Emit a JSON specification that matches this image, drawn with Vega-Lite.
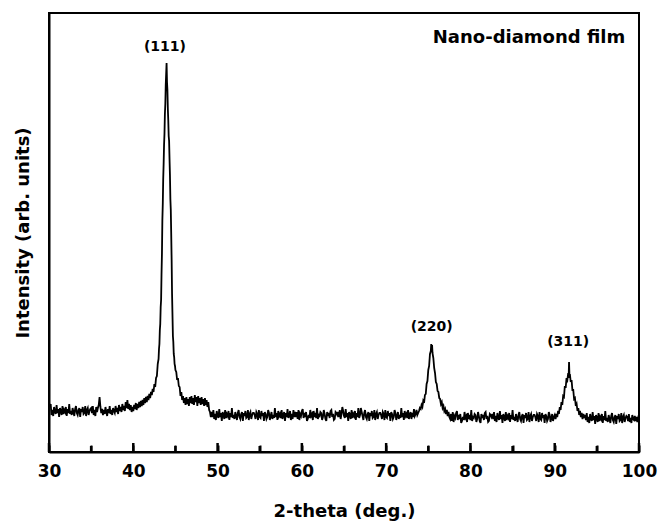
{
"$schema":"https://vega.github.io/schema/vega-lite/v6.json",
"width":590,"height":439,
"autosize":{"type":"none"},
"padding":{"left":49,"top":13,"right":19,"bottom":71},
"background":"white",
"config":{"view":{"stroke":"black","strokeWidth":2},"font":"DejaVu Sans"},
"layer":[
{"data":{"values":[
{"x":30.0,"y":50},{"x":30.1,"y":45},{"x":30.2,"y":48},{"x":30.3,"y":37},{"x":30.4,"y":42},{"x":30.5,"y":36},{"x":30.6,"y":45},{"x":30.7,"y":40},{"x":30.8,"y":38},{"x":30.9,"y":47},
{"x":31.0,"y":39},{"x":31.1,"y":43},{"x":31.2,"y":35},{"x":31.3,"y":44},{"x":31.4,"y":41},{"x":31.5,"y":37},{"x":31.6,"y":46},{"x":31.7,"y":38},{"x":31.8,"y":42},{"x":31.9,"y":40},
{"x":32.0,"y":45},{"x":32.1,"y":36},{"x":32.2,"y":43},{"x":32.3,"y":39},{"x":32.4,"y":48},{"x":32.5,"y":38},{"x":32.6,"y":41},{"x":32.7,"y":37},{"x":32.8,"y":44},{"x":32.9,"y":40},
{"x":33.0,"y":36},{"x":33.1,"y":43},{"x":33.2,"y":46},{"x":33.3,"y":39},{"x":33.4,"y":37},{"x":33.5,"y":42},{"x":33.6,"y":44},{"x":33.7,"y":35},{"x":33.8,"y":43},{"x":33.9,"y":40},
{"x":34.0,"y":45},{"x":34.1,"y":38},{"x":34.2,"y":39},{"x":34.3,"y":46},{"x":34.4,"y":36},{"x":34.5,"y":42},{"x":34.6,"y":44},{"x":34.7,"y":37},{"x":34.8,"y":41},{"x":34.9,"y":43},
{"x":35.0,"y":44},{"x":35.1,"y":39},{"x":35.2,"y":46},{"x":35.3,"y":37},{"x":35.4,"y":42},{"x":35.5,"y":36},{"x":35.6,"y":45},{"x":35.7,"y":40},{"x":35.8,"y":44},{"x":35.9,"y":47},
{"x":36.0,"y":55},{"x":36.1,"y":45},{"x":36.2,"y":39},{"x":36.3,"y":43},{"x":36.4,"y":37},{"x":36.5,"y":42},{"x":36.6,"y":38},{"x":36.7,"y":45},{"x":36.8,"y":40},{"x":36.9,"y":36},
{"x":37.0,"y":43},{"x":37.1,"y":39},{"x":37.2,"y":46},{"x":37.3,"y":38},{"x":37.4,"y":42},{"x":37.5,"y":37},{"x":37.6,"y":44},{"x":37.7,"y":41},{"x":37.8,"y":39},{"x":37.9,"y":46},
{"x":38.0,"y":40},{"x":38.1,"y":44},{"x":38.2,"y":38},{"x":38.3,"y":47},{"x":38.4,"y":41},{"x":38.5,"y":45},{"x":38.6,"y":40},{"x":38.7,"y":48},{"x":38.8,"y":42},{"x":38.9,"y":46},
{"x":39.0,"y":41},{"x":39.1,"y":50},{"x":39.2,"y":44},{"x":39.3,"y":52},{"x":39.4,"y":43},{"x":39.5,"y":48},{"x":39.6,"y":42},{"x":39.7,"y":47},{"x":39.8,"y":40},{"x":39.9,"y":45},
{"x":40.0,"y":41},{"x":40.1,"y":47},{"x":40.2,"y":43},{"x":40.3,"y":49},{"x":40.4,"y":42},{"x":40.5,"y":48},{"x":40.6,"y":44},{"x":40.7,"y":50},{"x":40.8,"y":45},{"x":40.9,"y":51},
{"x":41.0,"y":46},{"x":41.1,"y":52},{"x":41.2,"y":47},{"x":41.3,"y":54},{"x":41.4,"y":49},{"x":41.5,"y":55},{"x":41.6,"y":50},{"x":41.7,"y":56},{"x":41.8,"y":52},{"x":41.9,"y":58},
{"x":42.0,"y":54},{"x":42.1,"y":60},{"x":42.2,"y":57},{"x":42.3,"y":63},{"x":42.4,"y":60},{"x":42.5,"y":68},{"x":42.6,"y":65},{"x":42.7,"y":74},{"x":42.8,"y":76},{"x":42.9,"y":88},
{"x":43.0,"y":93},{"x":43.05,"y":103},{"x":43.1,"y":108},{"x":43.15,"y":122},{"x":43.2,"y":128},{"x":43.25,"y":145},{"x":43.3,"y":152},{"x":43.35,"y":178},{"x":43.4,"y":198},{"x":43.45,"y":232},
{"x":43.5,"y":248},{"x":43.55,"y":273},{"x":43.6,"y":288},{"x":43.65,"y":307},{"x":43.7,"y":318},{"x":43.75,"y":338},{"x":43.8,"y":348},{"x":43.85,"y":367},{"x":43.9,"y":378},{"x":43.95,"y":389},
{"x":44.0,"y":370},{"x":44.05,"y":362},{"x":44.1,"y":343},{"x":44.15,"y":332},{"x":44.2,"y":316},{"x":44.25,"y":311},{"x":44.3,"y":293},{"x":44.35,"y":277},{"x":44.4,"y":253},{"x":44.45,"y":242},
{"x":44.5,"y":218},{"x":44.55,"y":192},{"x":44.6,"y":158},{"x":44.65,"y":137},{"x":44.7,"y":116},{"x":44.75,"y":110},{"x":44.8,"y":98},{"x":44.85,"y":95},{"x":44.9,"y":88},{"x":44.95,"y":86},
{"x":45.0,"y":82},{"x":45.1,"y":80},{"x":45.2,"y":72},{"x":45.3,"y":74},{"x":45.4,"y":66},{"x":45.5,"y":65},{"x":45.6,"y":56},{"x":45.7,"y":60},{"x":45.8,"y":52},{"x":45.9,"y":56},
{"x":46.0,"y":49},{"x":46.1,"y":54},{"x":46.2,"y":47},{"x":46.3,"y":55},{"x":46.4,"y":48},{"x":46.5,"y":53},{"x":46.6,"y":46},{"x":46.7,"y":55},{"x":46.8,"y":49},{"x":46.9,"y":56},
{"x":47.0,"y":48},{"x":47.1,"y":54},{"x":47.2,"y":47},{"x":47.3,"y":57},{"x":47.4,"y":50},{"x":47.5,"y":55},{"x":47.6,"y":46},{"x":47.7,"y":56},{"x":47.8,"y":49},{"x":47.9,"y":54},
{"x":48.0,"y":47},{"x":48.1,"y":55},{"x":48.2,"y":48},{"x":48.3,"y":53},{"x":48.4,"y":46},{"x":48.5,"y":54},{"x":48.6,"y":47},{"x":48.7,"y":52},{"x":48.8,"y":45},{"x":48.9,"y":50},
{"x":49.0,"y":42},{"x":49.1,"y":40},{"x":49.2,"y":35},
{"x":49.3,"y":40},{"x":49.4,"y":35},{"x":49.5,"y":42},{"x":49.6,"y":33},{"x":49.7,"y":38},{"x":49.8,"y":32},{"x":49.9,"y":41},{"x":50.0,"y":36},{"x":50.1,"y":34},{"x":50.2,"y":43},
{"x":50.3,"y":35},{"x":50.4,"y":39},{"x":50.5,"y":31},{"x":50.6,"y":40},{"x":50.7,"y":37},{"x":50.8,"y":33},{"x":50.9,"y":42},{"x":51.0,"y":34},{"x":51.1,"y":38},{"x":51.2,"y":36},
{"x":51.3,"y":41},{"x":51.4,"y":32},{"x":51.5,"y":39},{"x":51.6,"y":35},{"x":51.7,"y":44},{"x":51.8,"y":34},{"x":51.9,"y":37},{"x":52.0,"y":33},{"x":52.1,"y":40},{"x":52.2,"y":36},
{"x":52.3,"y":32},{"x":52.4,"y":39},{"x":52.5,"y":42},{"x":52.6,"y":35},{"x":52.7,"y":33},{"x":52.8,"y":38},{"x":52.9,"y":40},{"x":53.0,"y":31},{"x":53.1,"y":39},{"x":53.2,"y":36},
{"x":53.3,"y":41},{"x":53.4,"y":34},{"x":53.5,"y":35},{"x":53.6,"y":42},{"x":53.7,"y":32},{"x":53.8,"y":38},{"x":53.9,"y":40},{"x":54.0,"y":33},{"x":54.1,"y":37},{"x":54.2,"y":39},
{"x":54.3,"y":39},{"x":54.4,"y":37},{"x":54.5,"y":33},{"x":54.6,"y":40},{"x":54.7,"y":38},{"x":54.8,"y":32},{"x":54.9,"y":42},{"x":55.0,"y":35},{"x":55.1,"y":34},{"x":55.2,"y":41},
{"x":55.3,"y":36},{"x":55.4,"y":39},{"x":55.5,"y":31},{"x":55.6,"y":40},{"x":55.7,"y":38},{"x":55.8,"y":33},{"x":55.9,"y":35},{"x":56.0,"y":42},{"x":56.1,"y":39},{"x":56.2,"y":32},
{"x":56.3,"y":36},{"x":56.4,"y":40},{"x":56.5,"y":33},{"x":56.6,"y":37},{"x":56.7,"y":34},{"x":56.8,"y":44},{"x":56.9,"y":35},{"x":57.0,"y":39},{"x":57.1,"y":32},{"x":57.2,"y":41},
{"x":57.3,"y":36},{"x":57.4,"y":38},{"x":57.5,"y":34},{"x":57.6,"y":42},{"x":57.7,"y":33},{"x":57.8,"y":37},{"x":57.9,"y":40},{"x":58.0,"y":31},{"x":58.1,"y":39},{"x":58.2,"y":35},
{"x":58.3,"y":43},{"x":58.4,"y":34},{"x":58.5,"y":36},{"x":58.6,"y":41},{"x":58.7,"y":32},{"x":58.8,"y":38},{"x":58.9,"y":33},{"x":59.0,"y":42},{"x":59.1,"y":35},{"x":59.2,"y":40},
{"x":59.3,"y":35},{"x":59.4,"y":40},{"x":59.5,"y":33},{"x":59.6,"y":42},{"x":59.7,"y":32},{"x":59.8,"y":38},{"x":59.9,"y":36},{"x":60.0,"y":41},{"x":60.1,"y":43},{"x":60.2,"y":34},
{"x":60.3,"y":39},{"x":60.4,"y":35},{"x":60.5,"y":40},{"x":60.6,"y":31},{"x":60.7,"y":33},{"x":60.8,"y":37},{"x":60.9,"y":34},{"x":61.0,"y":42},{"x":61.1,"y":36},{"x":61.2,"y":38},
{"x":61.3,"y":32},{"x":61.4,"y":41},{"x":61.5,"y":35},{"x":61.6,"y":39},{"x":61.7,"y":34},{"x":61.8,"y":44},{"x":61.9,"y":33},{"x":62.0,"y":37},{"x":62.1,"y":36},{"x":62.2,"y":40},
{"x":62.3,"y":39},{"x":62.4,"y":32},{"x":62.5,"y":35},{"x":62.6,"y":42},{"x":62.7,"y":38},{"x":62.8,"y":33},{"x":62.9,"y":31},{"x":63.0,"y":40},{"x":63.1,"y":36},{"x":63.2,"y":39},
{"x":63.3,"y":34},{"x":63.4,"y":41},{"x":63.5,"y":42},{"x":63.6,"y":35},{"x":63.7,"y":38},{"x":63.8,"y":32},{"x":63.9,"y":33},{"x":64.0,"y":40},{"x":64.1,"y":39},{"x":64.2,"y":37},
{"x":64.3,"y":40},{"x":64.4,"y":35},{"x":64.5,"y":42},{"x":64.6,"y":33},{"x":64.7,"y":38},{"x":64.8,"y":45},{"x":64.9,"y":41},{"x":65.0,"y":36},{"x":65.1,"y":34},{"x":65.2,"y":43},
{"x":65.3,"y":35},{"x":65.4,"y":39},{"x":65.5,"y":31},{"x":65.6,"y":40},{"x":65.7,"y":37},{"x":65.8,"y":33},{"x":65.9,"y":42},{"x":66.0,"y":34},{"x":66.1,"y":38},{"x":66.2,"y":36},
{"x":66.3,"y":41},{"x":66.4,"y":32},{"x":66.5,"y":39},{"x":66.6,"y":35},{"x":66.7,"y":44},{"x":66.8,"y":34},{"x":66.9,"y":37},{"x":67.0,"y":44},{"x":67.1,"y":40},{"x":67.2,"y":36},
{"x":67.3,"y":32},{"x":67.4,"y":39},{"x":67.5,"y":42},{"x":67.6,"y":35},{"x":67.7,"y":33},{"x":67.8,"y":38},{"x":67.9,"y":40},{"x":68.0,"y":31},{"x":68.1,"y":39},{"x":68.2,"y":36},
{"x":68.3,"y":41},{"x":68.4,"y":34},{"x":68.5,"y":35},{"x":68.6,"y":42},{"x":68.7,"y":32},{"x":68.8,"y":38},{"x":68.9,"y":40},{"x":69.0,"y":33},{"x":69.1,"y":37},{"x":69.2,"y":39},
{"x":69.3,"y":39},{"x":69.4,"y":37},{"x":69.5,"y":33},{"x":69.6,"y":40},{"x":69.7,"y":38},{"x":69.8,"y":32},{"x":69.9,"y":42},{"x":70.0,"y":35},{"x":70.1,"y":34},{"x":70.2,"y":41},
{"x":70.3,"y":36},{"x":70.4,"y":39},{"x":70.5,"y":31},{"x":70.6,"y":40},{"x":70.7,"y":38},{"x":70.8,"y":33},{"x":70.9,"y":35},{"x":71.0,"y":42},{"x":71.1,"y":39},{"x":71.2,"y":32},
{"x":71.3,"y":36},{"x":71.4,"y":40},{"x":71.5,"y":33},{"x":71.6,"y":37},{"x":71.7,"y":34},{"x":71.8,"y":44},{"x":71.9,"y":35},{"x":72.0,"y":39},{"x":72.1,"y":32},{"x":72.2,"y":41},
{"x":72.3,"y":36},{"x":72.4,"y":38},{"x":72.5,"y":34},{"x":72.6,"y":42},{"x":72.7,"y":33},{"x":72.8,"y":37},{"x":72.9,"y":40},{"x":73.0,"y":33},{"x":73.1,"y":39},{"x":73.2,"y":35},
{"x":73.3,"y":43},{"x":73.4,"y":36},{"x":73.5,"y":38},{"x":73.6,"y":42},{"x":73.7,"y":37},
{"x":73.8,"y":39},{"x":73.9,"y":41},{"x":74.0,"y":44},{"x":74.1,"y":43},{"x":74.2,"y":47},{"x":74.3,"y":45},{"x":74.4,"y":51},{"x":74.5,"y":49},{"x":74.6,"y":57},{"x":74.7,"y":58},
{"x":74.8,"y":68},{"x":74.9,"y":71},{"x":75.0,"y":82},{"x":75.1,"y":86},{"x":75.2,"y":98},{"x":75.3,"y":101},{"x":75.35,"y":108},{"x":75.4,"y":104},{"x":75.45,"y":107},{"x":75.5,"y":99},
{"x":75.6,"y":94},{"x":75.7,"y":84},{"x":75.8,"y":79},{"x":75.9,"y":70},{"x":76.0,"y":68},{"x":76.1,"y":61},{"x":76.2,"y":60},{"x":76.3,"y":54},{"x":76.4,"y":53},{"x":76.5,"y":48},
{"x":76.6,"y":50},{"x":76.7,"y":44},{"x":76.8,"y":46},{"x":76.9,"y":41},{"x":77.0,"y":43},{"x":77.1,"y":38},{"x":77.2,"y":42},{"x":77.3,"y":36},{"x":77.4,"y":40},{"x":77.5,"y":35},
{"x":77.6,"y":33},{"x":77.7,"y":38},{"x":77.8,"y":31},{"x":77.9,"y":40},{"x":78.0,"y":30},{"x":78.1,"y":36},{"x":78.2,"y":34},{"x":78.3,"y":39},{"x":78.4,"y":41},{"x":78.5,"y":32},
{"x":78.6,"y":37},{"x":78.7,"y":33},{"x":78.8,"y":38},{"x":78.9,"y":29},{"x":79.0,"y":31},{"x":79.1,"y":35},{"x":79.2,"y":32},{"x":79.3,"y":40},{"x":79.4,"y":34},{"x":79.5,"y":36},
{"x":79.6,"y":30},{"x":79.7,"y":39},{"x":79.8,"y":33},{"x":79.9,"y":37},{"x":80.0,"y":32},{"x":80.1,"y":42},{"x":80.2,"y":31},{"x":80.3,"y":35},{"x":80.4,"y":34},{"x":80.5,"y":38},
{"x":80.6,"y":37},{"x":80.7,"y":30},{"x":80.8,"y":33},{"x":80.9,"y":40},{"x":81.0,"y":36},{"x":81.1,"y":31},{"x":81.2,"y":29},{"x":81.3,"y":38},{"x":81.4,"y":34},{"x":81.5,"y":37},
{"x":81.6,"y":32},{"x":81.7,"y":39},{"x":81.8,"y":40},{"x":81.9,"y":33},{"x":82.0,"y":36},{"x":82.1,"y":30},{"x":82.2,"y":31},{"x":82.3,"y":38},{"x":82.4,"y":37},{"x":82.5,"y":35},
{"x":82.6,"y":38},{"x":82.7,"y":33},{"x":82.8,"y":40},{"x":82.9,"y":31},{"x":83.0,"y":36},{"x":83.1,"y":30},{"x":83.2,"y":39},{"x":83.3,"y":34},{"x":83.4,"y":32},{"x":83.5,"y":41},
{"x":83.6,"y":33},{"x":83.7,"y":37},{"x":83.8,"y":29},{"x":83.9,"y":38},{"x":84.0,"y":35},{"x":84.1,"y":31},{"x":84.2,"y":40},{"x":84.3,"y":32},{"x":84.4,"y":36},{"x":84.5,"y":34},
{"x":84.6,"y":39},{"x":84.7,"y":30},{"x":84.8,"y":37},{"x":84.9,"y":33},{"x":85.0,"y":42},{"x":85.1,"y":32},{"x":85.2,"y":35},{"x":85.3,"y":31},{"x":85.4,"y":38},{"x":85.5,"y":34},
{"x":85.6,"y":30},{"x":85.7,"y":37},{"x":85.8,"y":40},{"x":85.9,"y":33},{"x":86.0,"y":31},{"x":86.1,"y":36},{"x":86.2,"y":38},{"x":86.3,"y":29},{"x":86.4,"y":37},{"x":86.5,"y":34},
{"x":86.6,"y":39},{"x":86.7,"y":32},{"x":86.8,"y":33},{"x":86.9,"y":40},{"x":87.0,"y":30},{"x":87.1,"y":36},{"x":87.2,"y":38},{"x":87.3,"y":31},{"x":87.4,"y":35},{"x":87.5,"y":37},
{"x":87.6,"y":37},{"x":87.7,"y":35},{"x":87.8,"y":31},{"x":87.9,"y":38},{"x":88.0,"y":36},{"x":88.1,"y":30},{"x":88.2,"y":40},{"x":88.3,"y":33},{"x":88.4,"y":32},{"x":88.5,"y":39},
{"x":88.6,"y":34},{"x":88.7,"y":37},{"x":88.8,"y":29},{"x":88.9,"y":38},{"x":89.0,"y":36},{"x":89.1,"y":31},{"x":89.2,"y":33},{"x":89.3,"y":40},{"x":89.4,"y":37},{"x":89.5,"y":30},
{"x":89.6,"y":34},{"x":89.7,"y":38},{"x":89.8,"y":31},{"x":89.9,"y":35},
{"x":90.0,"y":37},{"x":90.1,"y":33},{"x":90.2,"y":38},{"x":90.3,"y":35},{"x":90.4,"y":41},{"x":90.5,"y":38},{"x":90.6,"y":45},{"x":90.7,"y":42},{"x":90.8,"y":50},{"x":90.9,"y":47},
{"x":91.0,"y":56},{"x":91.1,"y":55},{"x":91.2,"y":66},{"x":91.3,"y":64},{"x":91.4,"y":74},{"x":91.5,"y":72},{"x":91.6,"y":79},{"x":91.65,"y":74},{"x":91.7,"y":90},{"x":91.75,"y":76},
{"x":91.8,"y":78},{"x":91.9,"y":70},{"x":92.0,"y":72},{"x":92.1,"y":62},{"x":92.2,"y":62},{"x":92.3,"y":53},{"x":92.4,"y":54},{"x":92.5,"y":46},{"x":92.6,"y":48},{"x":92.7,"y":41},
{"x":92.8,"y":44},{"x":92.9,"y":37},{"x":93.0,"y":41},{"x":93.1,"y":35},{"x":93.2,"y":39},{"x":93.3,"y":33},{"x":93.4,"y":38},{"x":93.5,"y":34},
{"x":93.6,"y":37},{"x":93.7,"y":32},{"x":93.8,"y":39},{"x":93.9,"y":30},{"x":94.0,"y":35},{"x":94.1,"y":29},{"x":94.2,"y":38},{"x":94.3,"y":33},{"x":94.4,"y":31},{"x":94.5,"y":40},
{"x":94.6,"y":32},{"x":94.7,"y":36},{"x":94.8,"y":28},{"x":94.9,"y":37},{"x":95.0,"y":34},{"x":95.1,"y":30},{"x":95.2,"y":39},{"x":95.3,"y":31},{"x":95.4,"y":35},{"x":95.5,"y":33},
{"x":95.6,"y":38},{"x":95.7,"y":29},{"x":95.8,"y":36},{"x":95.9,"y":32},{"x":96.0,"y":41},{"x":96.1,"y":31},{"x":96.2,"y":34},{"x":96.3,"y":30},{"x":96.4,"y":37},{"x":96.5,"y":33},
{"x":96.6,"y":29},{"x":96.7,"y":36},{"x":96.8,"y":39},{"x":96.9,"y":32},{"x":97.0,"y":30},{"x":97.1,"y":35},{"x":97.2,"y":37},{"x":97.3,"y":28},{"x":97.4,"y":36},{"x":97.5,"y":33},
{"x":97.6,"y":38},{"x":97.7,"y":31},{"x":97.8,"y":32},{"x":97.9,"y":39},{"x":98.0,"y":29},{"x":98.1,"y":35},{"x":98.2,"y":37},{"x":98.3,"y":30},{"x":98.4,"y":34},{"x":98.5,"y":36},
{"x":98.6,"y":35},{"x":98.7,"y":31},{"x":98.8,"y":38},{"x":98.9,"y":30},{"x":99.0,"y":34},{"x":99.1,"y":29},{"x":99.2,"y":37},{"x":99.3,"y":33},{"x":99.4,"y":32},{"x":99.5,"y":36},
{"x":99.6,"y":31},{"x":99.7,"y":35},{"x":99.8,"y":30},{"x":99.9,"y":34},{"x":100.0,"y":32}
]},
"mark":{"type":"line","color":"black","strokeWidth":1.8},
"encoding":{
"x":{"field":"x","type":"quantitative","scale":{"domain":[30,100],"nice":false,"zero":false},
"axis":{"values":[30,35,40,45,50,55,60,65,70,75,80,85,90,95,100],
"labelExpr":"datum.value % 10 === 0 ? datum.label : ''",
"tickSize":-7,"tickWidth":2,"tickColor":"black",
"domainColor":"black","domainWidth":2,"grid":false,
"labelFont":"DejaVu Sans","labelFontWeight":"bold","labelFontSize":17,"labelColor":"black","labelPadding":18,"labelFlush":false,"labelOverlap":false,
"title":"2-theta (deg.)","titleFont":"DejaVu Sans","titleFontWeight":"bold","titleFontSize":18,"titleColor":"black","titlePadding":23}},
"y":{"field":"y","type":"quantitative","scale":{"domain":[0,439],"nice":false,"zero":false},
"axis":{"ticks":false,"labels":false,"grid":false,"domainColor":"black","domainWidth":2,
"title":"Intensity (arb. units)","titleFont":"DejaVu Sans","titleFontWeight":"bold","titleFontSize":18,"titleColor":"black","titlePadding":17}}
}},
{"data":{"values":[{"x":43.76,"y":405,"label":"(111)"},{"x":75.4,"y":125,"label":"(220)"},{"x":91.6,"y":110,"label":"(311)"}]},
"mark":{"type":"text","font":"DejaVu Sans","fontWeight":"bold","fontSize":14,"color":"black","align":"center","baseline":"middle"},
"encoding":{"x":{"field":"x","type":"quantitative"},"y":{"field":"y","type":"quantitative"},"text":{"field":"label"}}},
{"data":{"values":[{"x":86.95,"y":414,"label":"Nano-diamond film"}]},
"mark":{"type":"text","font":"DejaVu Sans","fontWeight":"bold","fontSize":18,"color":"black","align":"center","baseline":"middle"},
"encoding":{"x":{"field":"x","type":"quantitative"},"y":{"field":"y","type":"quantitative"},"text":{"field":"label"}}},
{"data":{"values":[{"x":30},{"x":40},{"x":50},{"x":60},{"x":70},{"x":80},{"x":90},{"x":100}]},
"mark":{"type":"rule","color":"black","strokeWidth":2.5},
"encoding":{"x":{"field":"x","type":"quantitative"},"y":{"datum":0},"y2":{"datum":9}}},
{"data":{"values":[{"x":35},{"x":45},{"x":55},{"x":65},{"x":75},{"x":85},{"x":95}]},
"mark":{"type":"rule","color":"black","strokeWidth":2.5},
"encoding":{"x":{"field":"x","type":"quantitative"},"y":{"datum":0},"y2":{"datum":6}}}
]
}
